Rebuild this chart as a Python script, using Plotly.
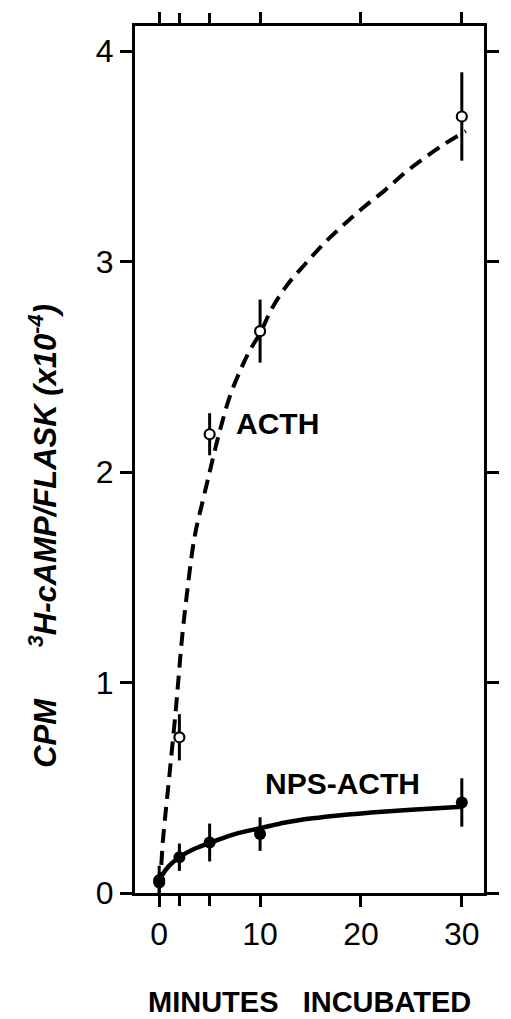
import plotly.graph_objects as go

# Measured points
minutes = [0, 2, 5, 10, 30]
acth_mean = [0.06, 0.74, 2.18, 2.67, 3.69]
acth_err = [0.07, 0.11, 0.10, 0.15, 0.21]
nps_mean = [0.05, 0.17, 0.24, 0.28, 0.43]
nps_err = [0.05, 0.065, 0.09, 0.08, 0.115]

# Fitted curves
acth_curve_x = [0.0, 0.2, 0.35, 0.67, 0.95, 1.24, 1.7, 1.95, 2.2, 2.67, 3.5, 4.3, 5.0,
                5.6, 6.2, 7.0, 8.1, 9.0, 10.0, 11.2, 12.7, 14.5, 16.4, 18.4, 20.3,
                22.4, 24.3, 26.2, 28.3, 30.4]
acth_curve_y = [0.03, 0.13, 0.24, 0.40, 0.53, 0.67, 0.90, 1.04, 1.18, 1.39, 1.69, 1.86, 2.00,
                2.12, 2.23, 2.36, 2.49, 2.58, 2.66, 2.78, 2.89, 2.99, 3.09, 3.18, 3.26,
                3.34, 3.42, 3.49, 3.56, 3.62]
nps_curve_x = [0.0, 0.3, 1.0, 2.0, 3.5, 5.4, 7.5, 10.2, 12.5, 15.2, 18.0, 21.0, 25.0, 30.0]
nps_curve_y = [0.05, 0.085, 0.13, 0.17, 0.21, 0.245, 0.28, 0.31, 0.335, 0.355, 0.37, 0.382, 0.396, 0.41]

x_ticks = [0, 10, 20, 30]
x_minor = [2, 5]
y_ticks = [0, 1, 2, 3, 4]

FONT = "Liberation Sans, Arial, sans-serif"

fig = go.Figure()

fig.add_trace(go.Scatter(
    x=acth_curve_x, y=acth_curve_y, mode="lines",
    line=dict(color="black", width=4, dash="14px,8px", shape="spline", smoothing=1.0),
    hoverinfo="skip", showlegend=False))
fig.add_trace(go.Scatter(
    x=nps_curve_x, y=nps_curve_y, mode="lines",
    line=dict(color="black", width=4.5, shape="spline", smoothing=1.0),
    hoverinfo="skip", showlegend=False))

fig.add_trace(go.Scatter(
    x=minutes, y=acth_mean, mode="markers",
    error_y=dict(type="data", array=acth_err, color="black", thickness=3, width=0),
    marker=dict(symbol="circle", size=10, color="white", line=dict(color="black", width=2.2)),
    showlegend=False, cliponaxis=False))
fig.add_trace(go.Scatter(
    x=minutes, y=nps_mean, mode="markers",
    error_y=dict(type="data", array=nps_err, color="black", thickness=3, width=0),
    marker=dict(symbol="circle", size=12, color="black"),
    showlegend=False, cliponaxis=False))

fig.add_annotation(x=11.7, y=2.23, text="<b>ACTH</b>", showarrow=False,
                   font=dict(family=FONT, size=30, color="black"))
fig.add_annotation(x=18.2, y=0.52, text="<b>NPS-ACTH</b>", showarrow=False,
                   font=dict(family=FONT, size=30, color="black"))

fig.add_annotation(xref="paper", yref="paper", x=0.5, y=-0.126,
                   text="<b>MINUTES   INCUBATED</b>", showarrow=False,
                   xanchor="center", yanchor="middle",
                   font=dict(family=FONT, size=29, color="black"))
fig.add_annotation(xref="paper", yref="paper", x=-0.262, y=0.4115,
                   text="<b><i>CPM      <sup>3</sup>H-cAMP/FLASK (x10<sup>-4</sup>)</i></b>",
                   showarrow=False, textangle=-90,
                   xanchor="center", yanchor="middle",
                   font=dict(family=FONT, size=31, color="black"))

fig.update_layout(
    width=511, height=1019,
    margin=dict(l=135, r=13, t=23, b=126),
    plot_bgcolor="white", paper_bgcolor="white",
    font=dict(family=FONT, color="black"),
)
fig.update_xaxes(
    range=[-2.4, 32.2], tickvals=x_ticks, ticktext=[str(v) for v in x_ticks],
    showgrid=False, zeroline=False, showline=True, linecolor="black", linewidth=3,
    mirror="allticks", ticks="outside", ticklen=11, tickwidth=3, tickcolor="black",
    tickfont=dict(family=FONT, size=32, color="black"),
    minor=dict(tickvals=x_minor, ticks="outside", ticklen=10, tickwidth=3, tickcolor="black"),
)
fig.update_yaxes(
    range=[0, 4.12], tickvals=y_ticks, ticktext=[str(v) for v in y_ticks],
    showgrid=False, zeroline=False, showline=True, linecolor="black", linewidth=3,
    mirror="allticks", ticks="outside", ticklen=12, tickwidth=3, tickcolor="black",
    tickfont=dict(family=FONT, size=32, color="black"),
)

# remove the default 8px page margin so the figure sits at the window's top-left corner
fig.write_html("out.html",
               config={"displayModeBar": False},
               post_script="document.body.style.margin='0px';"
                           "document.body.style.overflow='hidden';")
